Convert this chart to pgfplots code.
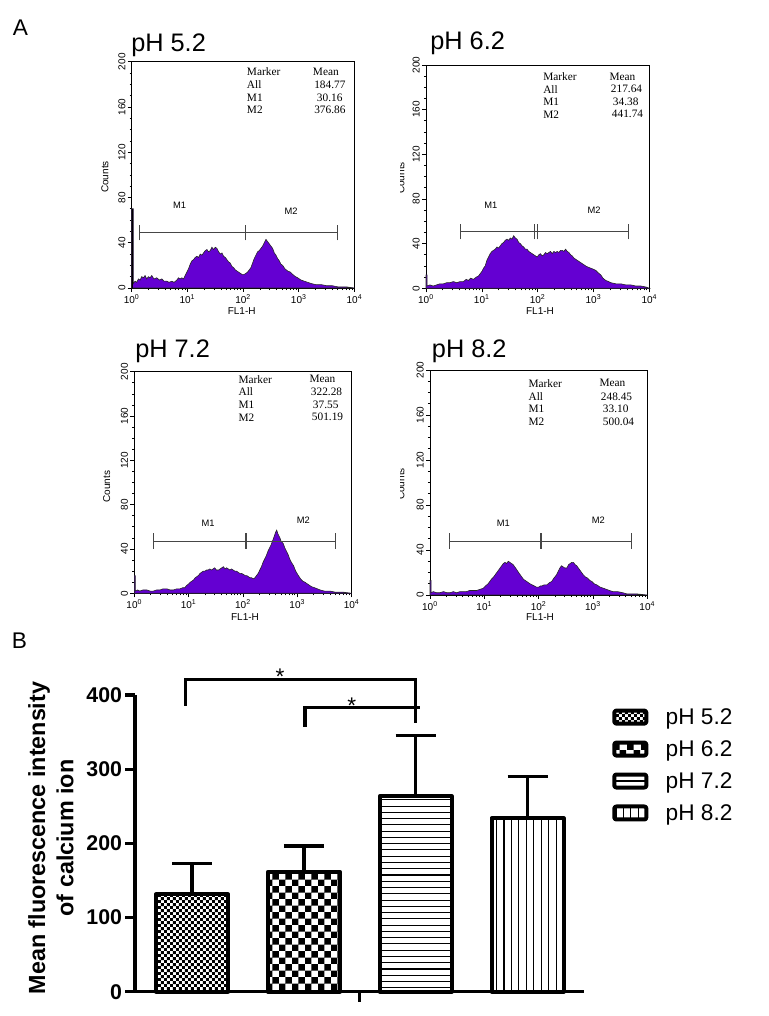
\documentclass[border=0pt]{standalone}
\usepackage{fontspec}
\setmainfont{Liberation Sans}
\newfontfamily\tms{Liberation Serif}
\usepackage{pgfplots}
\pgfplotsset{compat=1.18}
\usetikzlibrary{patterns}

\pgfdeclarepatternformonly{finecheck}{\pgfqpoint{0pt}{0pt}}{\pgfqpoint{4.4pt}{4.4pt}}{\pgfqpoint{4.4pt}{4.4pt}}{%
 \pgfpathrectangle{\pgfqpoint{0pt}{0pt}}{\pgfqpoint{2.2pt}{2.2pt}}%
 \pgfpathrectangle{\pgfqpoint{2.2pt}{2.2pt}}{\pgfqpoint{2.2pt}{2.2pt}}%
 \pgfusepath{fill}}
\pgfdeclarepatternformonly{bigcheck}{\pgfqpoint{0pt}{0pt}}{\pgfqpoint{10pt}{10pt}}{\pgfqpoint{10pt}{10pt}}{%
 \pgfpathrectangle{\pgfqpoint{0pt}{0pt}}{\pgfqpoint{5pt}{5pt}}%
 \pgfpathrectangle{\pgfqpoint{5pt}{5pt}}{\pgfqpoint{5pt}{5pt}}%
 \pgfusepath{fill}}
\pgfdeclarepatternformonly{hl}{\pgfqpoint{-1pt}{-1pt}}{\pgfqpoint{5.7pt}{5.7pt}}{\pgfqpoint{4.7pt}{4.7pt}}{%
 \pgfsetlinewidth{0.8pt}%
 \pgfpathmoveto{\pgfqpoint{-1pt}{2.35pt}}\pgfpathlineto{\pgfqpoint{5.7pt}{2.35pt}}%
 \pgfusepath{stroke}}
\pgfdeclarepatternformonly{vl}{\pgfqpoint{-1pt}{-1pt}}{\pgfqpoint{6.6pt}{6.6pt}}{\pgfqpoint{5.6pt}{5.6pt}}{%
 \pgfsetlinewidth{0.8pt}%
 \pgfpathmoveto{\pgfqpoint{2.8pt}{-1pt}}\pgfpathlineto{\pgfqpoint{2.8pt}{6.6pt}}%
 \pgfusepath{stroke}}

\definecolor{histpurple}{RGB}{100,0,210}
\definecolor{brkgray}{RGB}{70,70,70}

\pgfplotsset{
 hist/.style={scale only axis, anchor=south west,
  xmin=0, xmax=4, ymin=0, ymax=200,
  xtick={0,1,2,3,4},
  xticklabels={10\textsuperscript{0},10\textsuperscript{1},10\textsuperscript{2},10\textsuperscript{3},10\textsuperscript{4}},
  minor xtick={0.301,0.477,0.602,0.699,0.778,0.845,0.903,0.954,1.301,1.477,1.602,1.699,1.778,1.845,1.903,1.954,2.301,2.477,2.602,2.699,2.778,2.845,2.903,2.954,3.301,3.477,3.602,3.699,3.778,3.845,3.903,3.954},
  ytick={0,40,80,120,160,200}, minor y tick num=3,
  tick align=outside, tick pos=left,
  major tick length=3pt, minor tick length=1.6pt,
  every tick/.style={black, line width=0.5pt},
  axis line style={line width=0.6pt},
  tick label style={font=\fontsize{7.5}{8}\selectfont},
  yticklabel style={rotate=90, anchor=south, inner sep=1.5pt},
  xticklabel style={inner sep=1.5pt},
  /pgf/number format/assume math mode=true,
  clip=false},
 hp/.style={fill=histpurple, draw=black!85, line width=0.45pt},
}
\tikzset{tbl/.style={anchor=west, inner sep=0pt, font=\tms\fontsize{8.5}{9}\selectfont},
 ttl/.style={anchor=west, inner sep=0pt, font=\fontsize{19}{20}\selectfont},
 cnt/.style={rotate=90, inner sep=0pt, font=\fontsize{7.5}{8}\selectfont},
 flh/.style={inner sep=0pt, font=\fontsize{7.5}{8}\selectfont},
 brk/.style={brkgray, line width=0.6pt},
 ml/.style={font=\fontsize{7}{8}\selectfont}}

\begin{document}
\begin{tikzpicture}[x=0.75pt, y=0.75pt]
\path (0,0) rectangle (768,1016);

% ---------- Panel pH 5.2 ----------
\begin{axis}[hist, at={(98.78pt,546pt)}, width=167.1pt, height=169.7pt]
\addplot[hp] table {
d c
0 0
0 70
0.03 70
0.03 4
0.06 6
0.09 5
0.12 8
0.15 7
0.18 10
0.21 9
0.24 11
0.27 8
0.30 10
0.33 9
0.36 11
0.40 8
0.45 9
0.50 7
0.54 8
0.58 6
0.63 6
0.67 5
0.72 6
0.76 5
0.81 7
0.84 9
0.87 8
0.90 9
0.93 8
0.96 11
0.99 14
1.02 17
1.05 21
1.08 24
1.11 25
1.14 27
1.17 28
1.20 27
1.23 30
1.26 29
1.29 31
1.32 33
1.35 34
1.38 32
1.41 33
1.44 36
1.47 34
1.50 36
1.53 35
1.56 32
1.59 30
1.62 31
1.65 28
1.68 27
1.71 25
1.74 23
1.77 22
1.80 19
1.83 18
1.86 16
1.89 15
1.92 14
1.95 13
1.98 12
2.02 12
2.05 13
2.08 14
2.11 16
2.14 18
2.17 22
2.20 26
2.23 29
2.26 32
2.29 33
2.32 35
2.35 37
2.38 40
2.41 43
2.44 41
2.47 39
2.50 37
2.53 35
2.56 31
2.59 29
2.62 26
2.65 24
2.68 21
2.71 20
2.75 17
2.80 15
2.85 14
2.89 12
2.94 10
2.98 9
3.04 7
3.10 6
3.16 5
3.22 4
3.30 3
3.40 3
3.50 2
3.60 2
3.70 1
3.85 1
4.0 0
} \closedcycle;
\draw[black, line width=1.2pt] (axis cs:0.012,0) -- (axis cs:0.012,70);
\draw[brk] (axis cs:0.14,49) -- (axis cs:3.69,49);
\draw[brk] (axis cs:0.14,42) -- (axis cs:0.14,56);
\draw[brk] (axis cs:2.04,42) -- (axis cs:2.04,56);
\draw[brk] (axis cs:3.69,42) -- (axis cs:3.69,56);
\node[ml] at (axis cs:0.86,73.5) {M1};
\node[ml] at (axis cs:2.86,67.6) {M2};
\end{axis}

% ---------- Panel pH 6.2 ----------
\begin{axis}[hist, at={(319.5pt,545.78pt)}, width=167.5pt, height=167.5pt]
\addplot[hp] table {
d c
0 0
0 12
0.02 12
0.02 2
0.07 3
0.13 2
0.19 3
0.25 4
0.31 4
0.37 5
0.43 5
0.49 6
0.55 5
0.61 6
0.67 6
0.72 8
0.76 7
0.80 9
0.85 8
0.90 10
0.94 11
0.97 13
1.00 15
1.03 18
1.06 20
1.09 25
1.12 28
1.15 31
1.18 33
1.21 34
1.24 35
1.27 37
1.30 36
1.33 38
1.36 40
1.39 41
1.42 43
1.45 44
1.48 43
1.51 45
1.54 44
1.57 47
1.60 45
1.63 44
1.66 41
1.69 40
1.72 38
1.75 37
1.78 35
1.81 35
1.84 33
1.87 32
1.90 31
1.93 30
1.96 29
1.99 28
2.02 30
2.05 31
2.08 29
2.11 30
2.14 32
2.17 31
2.20 32
2.23 33
2.26 31
2.29 33
2.32 32
2.35 33
2.38 32
2.41 34
2.44 34
2.47 33
2.50 35
2.53 33
2.56 32
2.59 30
2.62 29
2.65 27
2.68 26
2.71 25
2.74 24
2.77 23
2.80 22
2.83 21
2.86 20
2.90 19
2.95 18
3.00 17
3.04 16
3.08 14
3.13 12
3.17 9
3.22 7
3.27 6
3.31 5
3.40 4
3.49 4
3.58 3
3.67 3
3.76 2
3.85 2
3.95 1
4.0 0
} \closedcycle;
\draw[brk] (axis cs:0.62,50.7) -- (axis cs:3.63,50.7);
\draw[brk] (axis cs:0.62,43.7) -- (axis cs:0.62,57.7);
\draw[brk] (axis cs:1.95,43.7) -- (axis cs:1.95,57.7);
\draw[brk] (axis cs:1.99,43.7) -- (axis cs:1.99,57.7);
\draw[brk] (axis cs:3.63,43.7) -- (axis cs:3.63,57.7);
\node[ml] at (axis cs:1.16,74.6) {M1};
\node[ml] at (axis cs:3.01,70) {M2};
\end{axis}

% ---------- Panel pH 7.2 ----------
\begin{axis}[hist, at={(100.73pt,317.03pt)}, width=163pt, height=166.2pt]
\addplot[hp] table {
d c
0 0
0 16
0.02 16
0.02 2
0.06 3
0.10 2
0.16 3
0.23 3
0.29 2
0.35 2
0.41 3
0.47 3
0.53 4
0.60 4
0.66 3
0.72 3
0.78 4
0.84 4
0.89 5
0.93 5
0.96 7
0.99 8
1.03 10
1.06 11
1.09 12
1.12 14
1.15 15
1.18 16
1.21 18
1.24 19
1.27 20
1.30 20
1.33 21
1.36 21
1.39 22
1.42 21
1.45 22
1.48 23
1.51 21
1.55 21
1.58 22
1.61 23
1.64 24
1.67 22
1.70 23
1.73 22
1.76 21
1.79 22
1.82 21
1.85 20
1.88 20
1.91 19
1.94 18
1.97 18
2.01 17
2.04 16
2.07 16
2.10 15
2.13 14
2.16 14
2.19 13
2.22 14
2.25 16
2.28 18
2.31 21
2.34 24
2.37 28
2.40 31
2.43 34
2.46 38
2.49 41
2.52 44
2.55 48
2.58 52
2.60 55
2.62 57
2.64 54
2.66 52
2.68 50
2.70 47
2.72 46
2.74 45
2.77 41
2.80 38
2.83 35
2.86 31
2.89 28
2.93 25
2.97 20
3.02 16
3.06 13
3.10 11
3.14 10
3.20 8
3.26 6
3.32 5
3.42 3
3.50 2
3.60 2
3.70 1
3.85 1
4.0 0
} \closedcycle;
\draw[brk] (axis cs:0.35,47.2) -- (axis cs:3.71,47.2);
\draw[brk] (axis cs:0.35,40.2) -- (axis cs:0.35,54.2);
\draw[brk] (axis cs:2.04,40.2) -- (axis cs:2.04,54.2);
\draw[brk] (axis cs:2.07,40.2) -- (axis cs:2.07,54.2);
\draw[brk] (axis cs:3.71,40.2) -- (axis cs:3.71,54.2);
\node[ml] at (axis cs:1.36,63) {M1};
\node[ml] at (axis cs:3.11,66) {M2};
\end{axis}

% ---------- Panel pH 8.2 ----------
\begin{axis}[hist, at={(322.5pt,315.75pt)}, width=163pt, height=168.75pt]
\addplot[hp] table {
d c
0 0
0 13
0.02 13
0.02 2
0.06 3
0.12 2
0.18 2
0.25 3
0.31 2
0.37 2
0.43 3
0.49 2
0.55 3
0.61 3
0.67 3
0.73 4
0.79 4
0.86 4
0.92 5
0.98 6
1.02 8
1.07 10
1.10 12
1.13 14
1.17 16
1.20 18
1.23 20
1.26 22
1.29 24
1.32 26
1.35 28
1.38 29
1.41 28
1.44 30
1.47 29
1.50 28
1.53 27
1.56 25
1.59 23
1.63 20
1.66 18
1.69 16
1.72 14
1.75 13
1.78 12
1.81 11
1.84 10
1.88 9
1.92 8
1.96 7
2.00 7
2.03 8
2.06 8
2.10 9
2.15 9
2.20 11
2.24 12
2.28 15
2.33 18
2.36 21
2.39 24
2.42 26
2.45 25
2.48 24
2.52 24
2.55 27
2.58 28
2.61 29
2.64 29
2.67 27
2.70 26
2.73 24
2.76 22
2.79 20
2.82 18
2.86 16
2.90 15
2.94 13
2.98 12
3.02 10
3.07 9
3.13 7
3.19 6
3.25 5
3.30 4
3.37 3
3.45 3
3.55 2
3.62 1
3.80 1
4.0 0
} \closedcycle;
\draw[brk] (axis cs:0.35,48) -- (axis cs:3.70,48);
\draw[brk] (axis cs:0.35,41) -- (axis cs:0.35,55);
\draw[brk, line width=1.2pt] (axis cs:2.04,41) -- (axis cs:2.04,55);
\draw[brk] (axis cs:3.70,41) -- (axis cs:3.70,55);
\node[ml] at (axis cs:1.35,63.7) {M1};
\node[ml] at (axis cs:3.10,66.7) {M2};
\end{axis}

% ---------- titles, tables, labels (panel A) ----------
\node[font=\fontsize{17}{18}\selectfont] at (20.5,988.5) {A};
\node[font=\fontsize{17}{18}\selectfont] at (19.5,375) {B};
\node[ttl] at (131,971) {pH 5.2};
\node[ttl] at (430,973) {pH 6.2};
\node[ttl] at (135,664.3) {pH 7.2};
\node[ttl] at (431.7,664.3) {pH 8.2};

\node[tbl] at (246.7,944.3) {Marker}; \node[tbl] at (312.7,944.3) {Mean};
\node[tbl] at (246.7,931) {All};      \node[tbl] at (314,931) {184.77};
\node[tbl] at (246.7,918.3) {M1};     \node[tbl] at (316.7,918.3) {30.16};
\node[tbl] at (246.7,906) {M2};       \node[tbl] at (314,906) {376.86};

\node[tbl] at (543,939.3) {Marker}; \node[tbl] at (609.3,939.3) {Mean};
\node[tbl] at (543,926.7) {All};    \node[tbl] at (610.7,926.7) {217.64};
\node[tbl] at (543,914.3) {M1};     \node[tbl] at (612.7,914.3) {34.38};
\node[tbl] at (543,901.7) {M2};     \node[tbl] at (611.7,901.7) {441.74};

\node[tbl] at (238.3,636.7) {Marker}; \node[tbl] at (309.3,636.7) {Mean};
\node[tbl] at (238.3,624) {All};      \node[tbl] at (310.7,624) {322.28};
\node[tbl] at (238.3,611.3) {M1};     \node[tbl] at (312.7,611.3) {37.55};
\node[tbl] at (238.3,598.7) {M2};     \node[tbl] at (311.7,598.7) {501.19};

\node[tbl] at (528.3,632.7) {Marker}; \node[tbl] at (599.3,632.7) {Mean};
\node[tbl] at (528.3,619.3) {All};    \node[tbl] at (600.7,619.3) {248.45};
\node[tbl] at (528.3,607.3) {M1};     \node[tbl] at (602.7,607.3) {33.10};
\node[tbl] at (528.3,594.3) {M2};     \node[tbl] at (602.7,594.3) {500.04};

\node[cnt] at (105,839) {Counts};
\node[cnt] at (106.7,529.3) {Counts};
\begin{scope}
\clip (400,0) rectangle (407,1016);
\node[cnt] at (401,838) {Counts};
\node[cnt] at (401,532) {Counts};
\end{scope}
\node[flh] at (241.7,705) {FL1-H};
\node[flh] at (540,705) {FL1-H};
\node[flh] at (245,399) {FL1-H};
\node[flh] at (540,399) {FL1-H};

% ---------- Panel B ----------
\begin{axis}[at={(101.25pt,18.23pt)}, anchor=south west, scale only axis,
  width=337pt, height=222.5pt,
  xmin=-0.51, xmax=3.508, ymin=0, ymax=400,
  axis lines*=left, axis line style={line width=2.5pt, -},
  xtick={1.5}, xticklabels={},
  ytick={0,100,200,300,400},
  tick align=outside, tick pos=left,
  major tick length=7.5pt,
  every tick/.style={black, line width=2.5pt},
  yticklabel style={font=\bfseries\fontsize{16}{16}\selectfont, inner sep=2pt},
  /pgf/number format/assume math mode=true,
  clip=false,
  legend cell align=left,
  legend style={draw=none, fill=none, at={(1,1)}, anchor=north west,
    xshift=20.8pt, yshift=-8.75pt, inner sep=0pt, row sep=8.6pt,
    font=\fontsize{17}{17}\selectfont,
    nodes={inner sep=1pt},
    /tikz/every odd column/.append style={column sep=12pt}},
  error bars/y dir=plus, error bars/y explicit,
  error bars/error bar style={line width=2.5pt, black},
  error bars/error mark options={rotate=90, line width=2.5pt, mark size=15pt, black},
]
\addplot[ybar, bar width=0.644, bar shift=0pt, pattern=finecheck, draw=black, line width=3pt, line join=round,
  legend image code/.code={\draw[pattern=finecheck, line width=3pt, rounded corners=1.5pt] (1.5pt,-4.8pt) rectangle (25.5pt,4.95pt);}]
  coordinates {(0,131.2) +- (0,41.3)};
\addlegendentry{pH 5.2}
\addplot[ybar, bar width=0.644, bar shift=0pt, pattern=bigcheck, draw=black, line width=3pt, line join=round,
  legend image code/.code={\draw[pattern=bigcheck, line width=3pt, rounded corners=1.5pt] (1.5pt,-4.8pt) rectangle (25.5pt,4.95pt);}]
  coordinates {(1,161.7) +- (0,34.7)};
\addlegendentry{pH 6.2}
\addplot[ybar, bar width=0.644, bar shift=0pt, pattern=hl, draw=black, line width=3pt, line join=round,
  legend image code/.code={\draw[pattern=hl, line width=3pt, rounded corners=1.5pt] (1.5pt,-4.8pt) rectangle (25.5pt,4.95pt);}]
  coordinates {(2,263.3) +- (0,82.2)};
\addlegendentry{pH 7.2}
\addplot[ybar, bar width=0.644, bar shift=0pt, pattern=vl, draw=black, line width=3pt, line join=round,
  legend image code/.code={\draw[pattern=vl, line width=3pt, rounded corners=1.5pt] (1.5pt,-4.8pt) rectangle (25.5pt,4.95pt);}]
  coordinates {(3,233.7) +- (0,56.1)};
\addlegendentry{pH 8.2}

\draw[line width=2.4pt] (axis cs:-0.06,385.4) -- (axis cs:-0.06,421.4) -- (axis cs:2.0,421.4) -- (axis cs:2.0,362);
\draw[line width=2.4pt] (axis cs:1.01,357) -- (axis cs:1.01,383.3) -- (axis cs:2.04,383.3);
\node[font=\fontsize{17}{17}\selectfont, inner sep=0pt, yshift=-3.7pt] at (axis cs:0.787,431) {*};
\node[font=\fontsize{17}{17}\selectfont, inner sep=0pt, yshift=-3.7pt] at (axis cs:1.428,391.8) {*};
\end{axis}

\node[rotate=90, align=center, font=\bfseries\fontsize{17.5}{21.2}\selectfont] at (51,178) {Mean fluorescence intensity\\of calcium ion};
\end{tikzpicture}
\end{document}
